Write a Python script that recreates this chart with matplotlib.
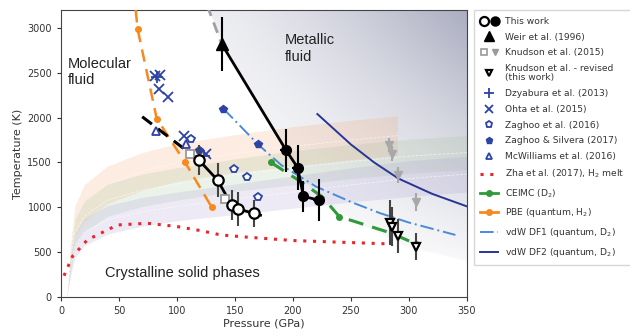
import numpy as np
import matplotlib
matplotlib.use('Agg')
import matplotlib.pyplot as plt
from matplotlib.lines import Line2D
from matplotlib.legend_handler import HandlerTuple

# ---- data (pressure GPa, temperature K) ----
# this work
tw_open_p = [119, 135, 147, 153, 166]
tw_open_T = [1525, 1303, 1026, 981, 933]
tw_open_err = [165, 190, 165, 185, 150]
tw_fill_p = [194, 204, 209, 222]
tw_fill_T = [1637, 1442, 1122, 1081]
tw_fill_err = [240, 250, 175, 235]
tw_dash_p = [70, 119]
tw_dash_T = [2010, 1525]

# Weir et al. (1996)
weir_p = [138.5]
weir_T = [2822]
weir_err = [300]
weir_ext_p = [126, 138.5]
weir_ext_T = [3250, 2822]

# Knudson et al. (2015)
kn_sq_p = [111, 141]
kn_sq_T = [1600, 1095]
kn_tri_p = [283, 285.7, 290.5, 305.8]
kn_tri_T = [1692, 1600, 1359, 1062]
kn_tri_err = [80, 80, 90, 100]
# Knudson et al. revised
knr_p = [283.6, 285.7, 290.5, 305.8]
knr_T = [829, 784, 681, 562]
knr_err = [250, 220, 185, 150]

dzy_p = [83, 123]
dzy_T = [2455, 1575]
ohta_p = [81, 85, 84.5, 92, 106, 125]
ohta_T = [2460, 2470, 2322, 2230, 1790, 1600]
zag16_p = [112, 149.5, 160, 170]
zag16_T = [1766, 1422, 1340, 1111]
zs17_p = [119, 140, 170]
zs17_T = [1637, 2100, 1703]
mcw_p = [81.6, 108]
mcw_T = [1855, 1711]

zha_p = [2.6, 9.8, 22.7, 48.6, 74.5, 100.3, 120.4, 137.7, 160.7, 201, 249.7, 283]
zha_T = [237, 452, 637, 803, 822, 785, 740, 692, 667, 629, 607, 592]

ceimc_p = [181, 205, 225, 240, 285, 305.8]
ceimc_T = [1500, 1300, 1120, 896, 711, 592]
pbe_p = [64.4, 66, 82.5, 107, 130]
pbe_T = [3200, 2990, 1990, 1500, 1000]
df1_p = [140, 170, 190, 220, 250, 275, 300, 340]
df1_T = [2100, 1700, 1470, 1230, 1060, 935, 830, 692]
df2_p = [221, 250, 270, 291, 320, 350]
df2_T = [2040, 1700, 1500, 1320, 1150, 1010]

# shaded melting bands of the crystalline phases
orange_p = [5, 8, 12, 20, 40, 70, 100, 150, 200, 250, 290]
orange_T = [0, 450, 850, 1050, 1250, 1400, 1500, 1600, 1680, 1750, 1800]
orange_w = [0, 120, 170, 200, 210, 210, 210, 210, 220, 220, 220]
green_p = [5, 8, 12, 20, 40, 70, 100, 150, 200, 250, 300, 350]
green_T = [0, 380, 720, 900, 1080, 1190, 1260, 1360, 1440, 1510, 1570, 1610]
green_w = [0, 110, 150, 170, 180, 180, 180, 180, 190, 190, 190, 190]
purple_p = [5, 8, 12, 20, 40, 70, 100, 150, 200, 250, 300, 350]
purple_T = [0, 320, 570, 720, 860, 950, 1010, 1090, 1170, 1250, 1320, 1370]
purple_w = [0, 100, 130, 150, 160, 160, 160, 170, 180, 190, 200, 200]

# edge of the metallic fluid region
bnd_T = [400, 550, 800, 1080, 1640, 2800, 3200]
bnd_p = [350, 300, 260, 222, 194, 140, 128]

blue = '#2d43a6'
grey = '#9a9a9a'

fig = plt.figure(figsize=(6.3, 3.36), dpi=100)
ax = fig.add_axes([61/630, 1-297/336, 406/630, 287/336])

# metallic region shading
P, T = np.meshgrid(np.linspace(0, 350, 400), np.linspace(0, 3200, 400))
xb = np.interp(T, bnd_T, bnd_p, left=1e9)
d = np.clip((P - xb) / 240, 0, 1)
alpha = (0.12 + 0.48 * d ** 1.3) * (0.3 + 0.7 * T / 3200)
alpha[P < xb] = 0
img = np.zeros(P.shape + (4,))
img[..., 0] = 0.40
img[..., 1] = 0.42
img[..., 2] = 0.56
img[..., 3] = alpha
ax.imshow(img, extent=[0, 350, 0, 3200], origin='lower', aspect='auto', zorder=0)

for bp, bt, bw, col in [(orange_p, orange_T, orange_w, '#f4a26b'),
                        (green_p, green_T, green_w, '#9fbf93'),
                        (purple_p, purple_T, purple_w, '#a59ad0')]:
    bp = np.array(bp); bt = np.array(bt); bw = np.array(bw)
    ax.fill_between(bp, bt - bw, bt + bw, color=col, alpha=0.2, lw=0, zorder=1)
    ax.plot(bp, bt, color='white', lw=0.6, ls='--', alpha=0.6, zorder=1)

# lines
ax.plot(zha_p, zha_T, ls=(0, (1, 2.2)), lw=2.2, color='#e8262b', zorder=3)
ax.plot(pbe_p, pbe_T, ls=(0, (5, 3)), lw=1.8, color='#f7891f', marker='o', ms=4,
        markevery=[1, 2, 3, 4], zorder=3)
ax.plot(ceimc_p, ceimc_T, ls=(0, (5, 3)), lw=2.2, color='#2e9a3a', marker='o', ms=4,
        markevery=[0, 3, 5], zorder=3)
ax.plot(df1_p, df1_T, ls=(0, (7, 2, 1, 2)), lw=1.4, color='#4a8ad8', zorder=3)
ax.plot(df2_p, df2_T, ls='-', lw=1.4, color='#283593', zorder=3)

ax.plot(tw_dash_p, tw_dash_T, ls=(0, (4, 2.5)), lw=2.2, color='black', zorder=4)
ax.plot(tw_open_p + [172], tw_open_T + [912], ls='-', lw=2.0, color='black', zorder=4)
ax.plot(weir_ext_p, weir_ext_T, ls=(0, (4, 2.5)), lw=2.0, color='#a0a0a0', zorder=4)
ax.plot(weir_p + tw_fill_p, weir_T + tw_fill_T, ls='-', lw=2.0, color='black', zorder=4)

# points
ax.plot(ohta_p, ohta_T, ls='none', marker='x', ms=7, mew=1.3, color=blue, zorder=5)
ax.plot(dzy_p, dzy_T, ls='none', marker='+', ms=8, mew=1.3, color=blue, zorder=5)
ax.plot(mcw_p, mcw_T, ls='none', marker='^', ms=6, mew=1.3, mfc='none', mec=blue, zorder=5)
ax.plot(zag16_p, zag16_T, ls='none', marker='p', ms=6, mew=1.3, mfc='white', mec=blue, zorder=5)
ax.plot(zs17_p, zs17_T, ls='none', marker='p', ms=6, color=blue, zorder=5)
ax.plot(kn_sq_p, kn_sq_T, ls='none', marker='s', ms=6, mew=1.3, mfc='white', mec=grey, zorder=5)
ax.errorbar(kn_tri_p, kn_tri_T, yerr=kn_tri_err, ls='none', marker='v', ms=6,
            color='#a8a8a8', ecolor='#a8a8a8', elinewidth=1.5, zorder=5)
ax.errorbar(knr_p, knr_T, yerr=knr_err, ls='none', marker='v', ms=6, mew=1.6,
            mfc='white', mec='black', ecolor='#444444', elinewidth=1.5, zorder=6)
ax.errorbar(tw_open_p, tw_open_T, yerr=tw_open_err, ls='none', marker='o', ms=7.5, mew=1.6,
            mfc='white', mec='black', ecolor='#444444', elinewidth=1.5, zorder=6)
ax.errorbar(tw_fill_p, tw_fill_T, yerr=tw_fill_err, xerr=5, ls='none', marker='o', ms=7,
            color='black', ecolor='black', elinewidth=1.5, zorder=6)
ax.errorbar(weir_p, weir_T, yerr=weir_err, ls='none', marker='^', ms=8,
            color='black', ecolor='black', elinewidth=1.5, zorder=6)

txt = dict(family=['Liberation Sans', 'DejaVu Sans'], fontsize=10.5, color='#222222')
ax.text(6, 2680, 'Molecular\nfluid', va='top', **txt)
ax.text(193, 2940, 'Metallic\nfluid', va='top', **txt)
ax.text(38, 270, 'Crystalline solid phases', va='center', **txt)

ax.set_xlim(0, 350)
ax.set_ylim(0, 3200)
ax.set_xticks(np.arange(0, 351, 50))
ax.set_yticks(np.arange(0, 3001, 500))
ax.tick_params(labelsize=7, colors='#333333', length=3)
ax.set_xlabel('Pressure (GPa)', fontsize=8, color='#333333', labelpad=2)
ax.set_ylabel('Temperature (K)', fontsize=8, color='#333333', labelpad=3)
for s in ax.spines.values():
    s.set_color('#444444')

# legend proxies
h_tw = (Line2D([], [], ls='none', marker='o', ms=6.5, mfc='white', mec='black', mew=1.6),
        Line2D([], [], ls='none', marker='o', ms=6.5, color='black'))
h_weir = Line2D([], [], ls='none', marker='^', ms=7, color='black')
h_kn = (Line2D([], [], ls='none', marker='s', ms=5, mfc='white', mec=grey, mew=1.2),
        Line2D([], [], ls='none', marker='v', ms=5, color=grey))
h_knr = Line2D([], [], ls='none', marker='v', ms=5, mfc='white', mec='black', mew=1.6)
h_dzy = Line2D([], [], ls='none', marker='+', ms=7, mew=1.3, color=blue)
h_ohta = Line2D([], [], ls='none', marker='x', ms=6, mew=1.3, color=blue)
h_z16 = Line2D([], [], ls='none', marker='p', ms=5, mew=1.3, mfc='white', mec=blue)
h_z17 = Line2D([], [], ls='none', marker='p', ms=5, color=blue)
h_mcw = Line2D([], [], ls='none', marker='^', ms=5, mew=1.3, mfc='none', mec=blue)
h_zha = Line2D([], [], ls=(0, (1, 2.2)), lw=2.2, color='#e8262b')
h_ce = Line2D([], [], ls='-', lw=2, color='#2e9a3a', marker='o', ms=4)
h_pbe = Line2D([], [], ls='-', lw=2, color='#f7891f', marker='o', ms=4)
h_df1 = Line2D([], [], ls=(0, (7, 2, 1, 2)), lw=1.4, color='#4a8ad8')
h_df2 = Line2D([], [], ls='-', lw=1.4, color='#283593')

handles = [h_tw, h_weir, h_kn, h_knr, h_dzy, h_ohta, h_z16, h_z17, h_mcw,
           h_zha, h_ce, h_pbe, h_df1, h_df2]
labels = ['This work', 'Weir et al. (1996)', 'Knudson et al. (2015)',
          'Knudson et al. - revised\n(this work)', 'Dzyabura et al. (2013)',
          'Ohta et al. (2015)', 'Zaghoo et al. (2016)', 'Zaghoo & Silvera (2017)',
          'McWilliams et al. (2016)', 'Zha et al. (2017), H$_2$ melt',
          'CEIMC (D$_2$)', 'PBE (quantum, H$_2$)', 'vdW DF1 (quantum, D$_2$)',
          'vdW DF2 (quantum, D$_2$)']
leg = ax.legend(handles, labels, loc='upper left', bbox_to_anchor=(1.012, 1.005),
                fontsize=6.6, handlelength=2.0, handletextpad=0.7, labelspacing=0.74,
                borderpad=0.7, borderaxespad=0.2, frameon=True, fancybox=False,
                handler_map={tuple: HandlerTuple(ndivide=None, pad=0.5)})
leg.get_frame().set_edgecolor('#cccccc')
leg.get_frame().set_linewidth(1.0)
for t in leg.get_texts():
    t.set_linespacing(1.0)
    t.set_color('#333333')

fig.savefig('out.png', dpi=100)
